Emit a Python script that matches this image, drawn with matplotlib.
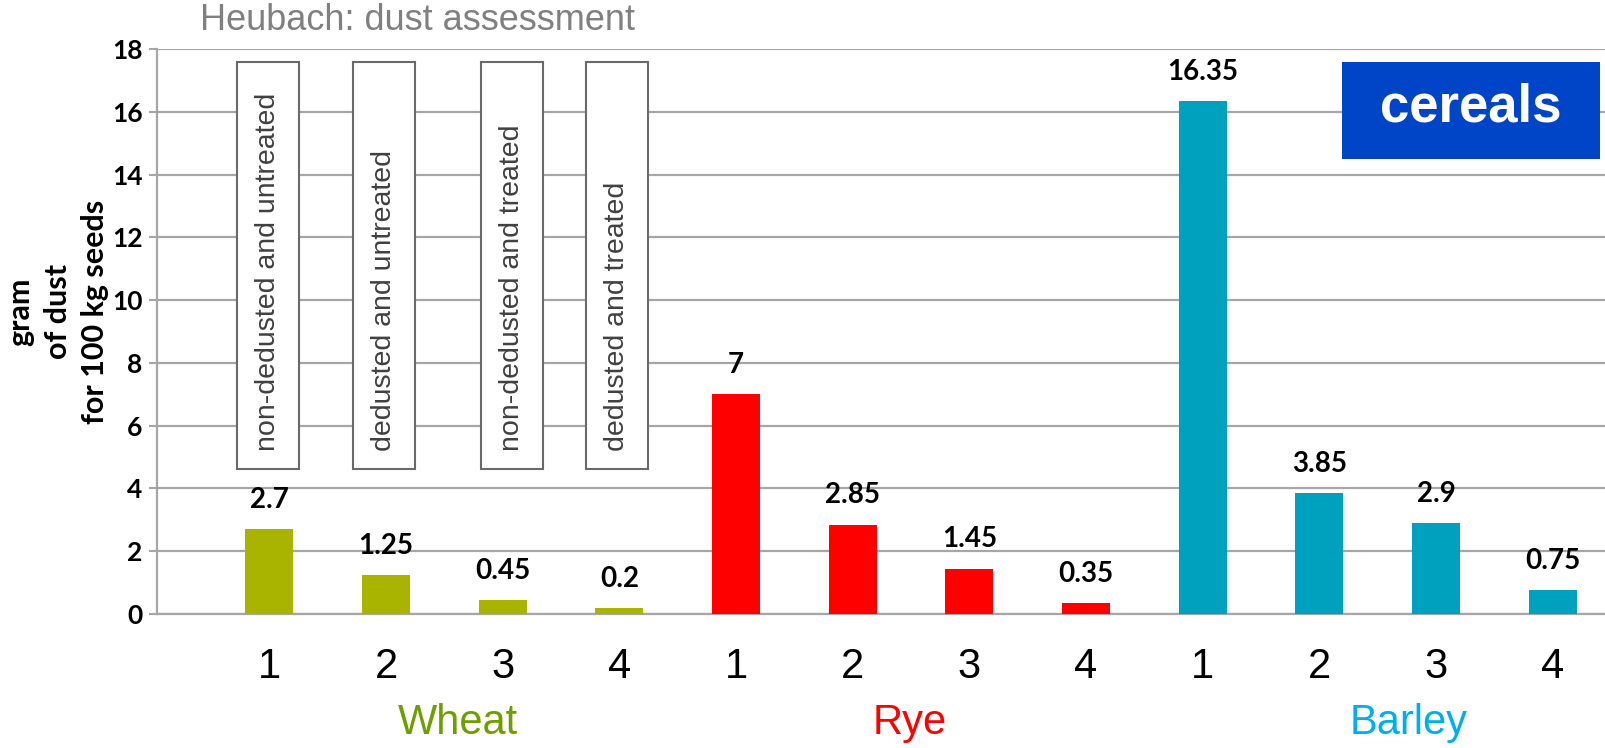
import matplotlib
matplotlib.use("Agg")
import matplotlib.pyplot as plt
from matplotlib.patches import Rectangle
import numpy as np

# data
groups = ['Wheat', 'Rye', 'Barley']
treatments = ['1', '2', '3', '4']
wheat = [2.7, 1.25, 0.45, 0.2]
rye = [7, 2.85, 1.45, 0.35]
barley = [16.35, 3.85, 2.9, 0.75]
box_labels = ['non-dedusted and untreated', 'dedusted and untreated',
              'non-dedusted and treated', 'dedusted and treated']

bar_colors = ['#A9B400', '#FF0000', '#00A1BF']
label_colors = ['#6E9E00', '#FF0000', '#00AEEF']
grid_col = '#A6A6A6'

fig = plt.figure(figsize=(16.06, 7.48), dpi=100)
ax = fig.add_axes([0.0978, 0.1791, 0.9022, 0.7554])

values = [wheat, rye, barley]
x = 0
xticks = []
xlabels = []
for g, vals in enumerate(values):
    pos = np.arange(len(vals)) + x
    ax.bar(pos, vals, width=0.41, color=bar_colors[g], zorder=3)
    for p, v in zip(pos, vals):
        ax.annotate(f"{v:g}", (p, v), xytext=(0, 21), textcoords='offset points',
                    ha='center', va='center', fontsize=20, fontweight='bold',
                    family='Lato', color='black')
    xticks += list(pos)
    xlabels += treatments
    x += len(vals)

# group names under the tick numbers
group_x = [1.615, 5.487, 9.763]
trans = ax.get_xaxis_transform()
for name, gx, c in zip(groups, group_x, label_colors):
    ax.text(gx, -0.193, name, transform=trans, ha='center', va='center',
            fontsize=30, color=c, family='Liberation Sans')

# legend boxes for treatments
box_x = [-0.01, 0.98, 2.08, 2.98]
for bx, lab in zip(box_x, box_labels):
    ax.add_patch(Rectangle((bx - 0.265, 4.62), 0.53, 17.58 - 4.62,
                           facecolor='white', edgecolor='#6A6A6A', lw=1.5, zorder=4))
    ax.text(bx, 5.2, lab, rotation=90, ha='center', va='bottom', fontsize=20.5,
            color='#404040', family='Liberation Sans', zorder=5)

ax.set_xlim(-0.963, 11.457)
ax.set_ylim(0, 18)
ax.set_yticks(np.arange(0, 19, 2))
ax.set_xticks(xticks)
ax.set_xticklabels(xlabels, fontsize=30, family='Liberation Sans')
ax.tick_params(axis='x', length=0, pad=24)
ax.tick_params(axis='y', length=6, width=1.5, color=grid_col, pad=4.5)
for t in ax.get_yticklabels():
    t.set_fontsize(19)
    t.set_fontweight('bold')
    t.set_family('Lato')

ax.grid(axis='y', color=grid_col, lw=1.6, zorder=0)
ax.set_axisbelow(True)
for s in ['top', 'right']:
    ax.spines[s].set_visible(False)
for s in ['left', 'bottom']:
    ax.spines[s].set_color(grid_col)
    ax.spines[s].set_linewidth(1.6)

fig.text(0.036, 0.583, 'gram\nof dust\nfor 100 kg seeds', rotation=90, ha='center',
         va='center', multialignment='center', fontsize=22, fontweight='bold',
         family='Lato', linespacing=1.42)
fig.text(0.1245, 0.972, 'Heubach: dust assessment', ha='left', va='center',
         fontsize=26, color='#808080', family='Liberation Sans')

# "cereals" badge
fig.add_artist(Rectangle((1342 / 1606, 1 - 159 / 748), 258 / 1606, 97 / 748,
                         transform=fig.transFigure, facecolor='#0044C8',
                         edgecolor='none', zorder=5))
fig.text(1471 / 1606, 1 - 108 / 748, 'cereals', ha='center', va='center', fontsize=38,
         fontweight='bold', color='white', family='Liberation Sans', zorder=6)

fig.savefig('out.png', dpi=100)
